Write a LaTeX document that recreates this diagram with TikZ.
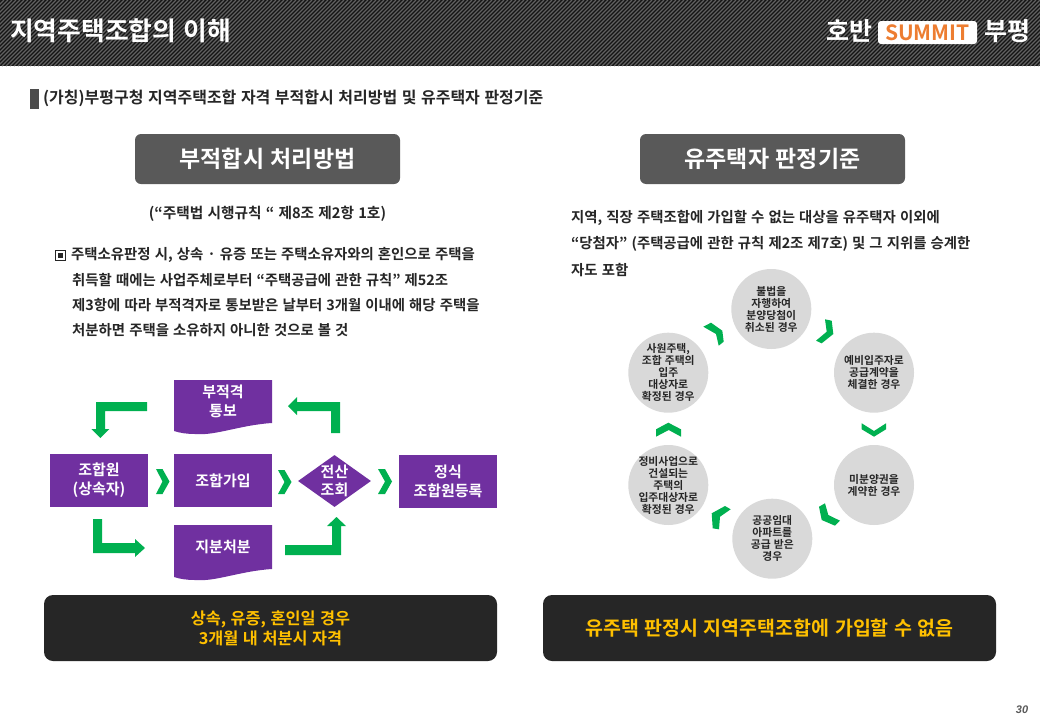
\documentclass[tikz,border=0pt]{standalone}
\usepackage{fontspec}
\usetikzlibrary{shapes.geometric}
\setmainfont[BoldFont={Noto Sans CJK KR Bold},WordSpace=1.25]{Noto Sans CJK KR}
\newfontfamily\pgfont[BoldItalicFont={Liberation Sans Bold Italic}]{Liberation Sans}
\definecolor{purp}{HTML}{7030A0}
\definecolor{grn}{HTML}{00B050}
\definecolor{hdr}{HTML}{595959}
\definecolor{blk}{HTML}{262626}
\definecolor{gold}{HTML}{FFC000}
\definecolor{txt}{HTML}{262626}
\definecolor{circ}{HTML}{D9D9D9}
\definecolor{orng}{HTML}{ED7D31}
\newcommand{\fs}[2]{\fontsize{#1}{#2}\selectfont\bfseries}
\tikzset{
  x=1pt,y=-1pt,
  pbox/.style={fill=purp,text=white,minimum width=98,minimum height=53,inner sep=0,align=center,font=\fs{15}{19}},
  ptxt/.style={text=white,align=center,inner sep=0,font=\fs{15}{18.5}},
  arr/.style={fill=grn,draw=none},
  cyc/.style={circle,fill=circ,minimum size=80,inner sep=-12,align=center,text=txt,font=\fs{10.8}{12}},
  head/.style={fill=hdr,rounded corners=6,text=white,minimum width=265,minimum height=50,inner sep=0,font=\fs{23}{26}},
  foot/.style={fill=blk,rounded corners=9,text=gold,minimum width=453,minimum height=66,inner sep=0,align=center},
  body/.style={anchor=west,inner sep=0,text=txt,font=\fs{14.4}{17}},
}
\begin{document}
\begin{tikzpicture}
\useasboundingbox (0,0) rectangle (1040,720);
\fill[white] (0,0) rectangle (1040,720);
% header band
\begin{scope}
\clip (0,0) rectangle (1040,66);
\fill[black!92] (0,0) rectangle (1040,66);
\foreach \i in {-70,-66,...,1040} \draw[black!62,line width=1.3] (\i,66) -- ++(66,-66);
\end{scope}
\node[anchor=west,inner sep=0,text=white,font=\fs{25.8}{30}] (title) at (10,31) {지역주택조합의 이해};
\node[anchor=west,inner sep=0,text=white,font=\fs{25}{30}] (ho) at (826,31) {호반};
\node[fill=white,rounded corners=3,minimum width=99,minimum height=23,inner sep=0,text=orng,font=\fs{21}{24}] (summit) at (927.5,32.5) {SUMMIT};
\node[anchor=west,inner sep=0,text=white,font=\fs{25}{30}] (pu) at (984,31) {부평};
% subtitle
\fill[black!70] (30,89) rectangle (39,109);
\node[anchor=west,inner sep=0,text=txt,font=\fs{16}{18}] (sub) at (43,98.5) {(가칭)부평구청 지역주택조합 자격 부적합시 처리방법 및 유주택자 판정기준};
% section heads
\node[head] (h1) at (267.5,159) {부적합시 처리방법};
\node[head] (h2) at (772.5,159) {유주택자 판정기준};
% left text
\node[inner sep=0,text=txt,font=\fs{14.7}{17}] (ref) at (267.5,214) {(“주택법 시행규칙 “ 제8조 제2항 1호)};
\draw[txt,line width=.8] (55,250) rectangle (65,260);
\fill[txt] (57.5,252.5) rectangle (62.5,257.5);
\node[body] (l1) at (71,255) {주택소유판정 시, 상속 · 유증 또는 주택소유자와의 혼인으로 주택을};
\node[body] (l2) at (72,280) {취득할 때에는 사업주체로부터 “주택공급에 관한 규칙” 제52조};
\node[body] (l3) at (72,305) {제3항에 따라 부적격자로 통보받은 날부터 3개월 이내에 해당 주택을};
\node[body] (l4) at (72,330) {처분하면 주택을 소유하지 아니한 것으로 볼 것};
% right text
\node[body] (r1) at (571,218) {지역, 직장 주택조합에 가입할 수 없는 대상을 유주택자 이외에};
\node[body] (r2) at (571,244) {“당첨자” (주택공급에 관한 규칙 제2조 제7호) 및 그 지위를 승계한};
\node[body] (r3) at (571,270) {자도 포함};
% flow boxes
\node[pbox] (a) at (99,480.5) {조합원\\(상속자)};
\node[pbox] (b) at (223,480.5) {조합가입};
\node[diamond,fill=purp,aspect=1.4,minimum width=73,minimum height=52,inner sep=0] (d) at (334.5,481) {};
\node[ptxt] (dt) at (334.5,481) {전산\\조회};
\node[pbox] (e) at (448,481.5) {정식\\조합원등록};
\fill[purp] (174,380) -- (272,380) -- (272,423) .. controls (240,425) and (215,436) .. (195,434) .. controls (187,434) and (180,433) .. (174,431) -- cycle;
\node[ptxt] (t1) at (223,401.5) {부적격\\통보};
\fill[purp] (174,525) -- (272,525) -- (272,569) .. controls (240,571) and (215,582) .. (195,580) .. controls (187,580) and (180,579) .. (174,577) -- cycle;
\node[ptxt] (t2) at (223,547) {지분처분};
% bent arrows
\fill[arr] (147,402) -- (96,402) -- (96,429) -- (91.3,429) -- (100.3,438) -- (109.3,429) -- (105,429) -- (105,411) -- (147,411) -- cycle;
\fill[arr] (340,433) -- (340,402) -- (297,402) -- (297,397) -- (288,406) -- (297,415) -- (297,411) -- (331,411) -- (331,433) -- cycle;
\fill[arr] (93,519) -- (93,553) -- (135,553) -- (135,557) -- (145,548) -- (135,539) -- (135,543) -- (102,543) -- (102,519) -- cycle;
\fill[arr] (285,545) -- (332,545) -- (332,526) -- (327,526) -- (336.5,517) -- (346,526) -- (341,526) -- (341,555) -- (285,555) -- cycle;
% chevrons
\fill[arr] (156,469) -- (162.5,469) -- (169.5,481.5) -- (162.5,494) -- (156,494) -- (162.5,481.5) -- cycle;
\fill[arr] (278,470) -- (284.5,470) -- (291.5,482) -- (284.5,494) -- (278,494) -- (284.5,482) -- cycle;
\fill[arr] (378,469) -- (385,469) -- (392,481.5) -- (385,494) -- (378,494) -- (385,481.5) -- cycle;
% cycle
\node[cyc] (c1) at (771.3,309) {불법을\\자행하여\\분양당첨이\\취소된 경우};
\node[cyc] (c2) at (874,372.7) {예비입주자로\\공급계약을\\체결한 경우};
\node[cyc] (c3) at (874,485) {미분양권을\\계약한 경우};
\node[cyc] (c4) at (772.3,538.7) {공공임대\\아파트를\\공급 받은\\경우};
\node[cyc] (c5) at (668.3,485) {정비사업으로\\건설되는\\주택의\\입주대상자로\\확정된 경우};
\node[cyc] (c6) at (668.3,372.7) {사원주택,\\조합 주택의\\입주\\대상자로\\확정된 경우};
\fill[arr] (703.3,326.7) -- (711,322.7) -- (722.3,330.7) -- (723.7,341.7) -- (718.7,345.7) -- (716,334) -- cycle;
\fill[arr] (825,319.3) -- (831.7,320.7) -- (833.3,334) -- (821.7,343.3) -- (816,340.7) -- (826.7,331.7) -- cycle;
\fill[arr] (861.7,423.3) -- (874,431) -- (886,423.3) -- (886,429.3) -- (874,436.7) -- (861.7,429.3) -- cycle;
\fill[arr] (819,506.7) -- (825,503.3) -- (828.3,515) -- (840,520.7) -- (835,525.7) -- (821.7,520) -- cycle;
\fill[arr] (711.7,513.3) -- (725,506) -- (730.7,509.3) -- (720,516.7) -- (719,529.3) -- (712.7,528.3) -- cycle;
\fill[arr] (656,429.3) -- (668.3,422.7) -- (681,429.3) -- (681,436.7) -- (668.7,430) -- (656,436.7) -- cycle;
% footers
\node[foot,font=\fs{16.3}{20}] (f1) at (270.5,628) {상속, 유증, 혼인일 경우\\3개월 내 처분시 자격};
\node[foot,font=\fs{19.5}{22}] (f2) at (769.5,628) {유주택 판정시 지역주택조합에 가입할 수 없음};
\node[inner sep=0,text=black!65,font=\pgfont\fontsize{11}{12}\selectfont\bfseries\itshape] (pg) at (1022,710) {30};
\end{tikzpicture}
\end{document}
